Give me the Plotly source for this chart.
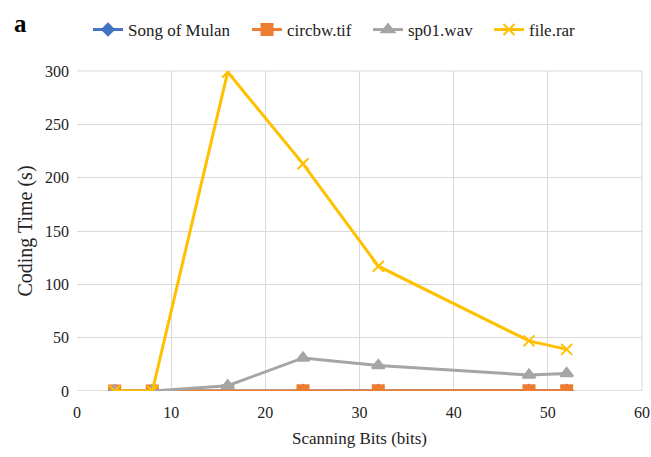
import plotly.graph_objects as go

bits = [4, 8, 16, 24, 32, 48, 52]
song_of_mulan = [0, 0, 0.1, 0.2, 0.2, 0.2, 0.2]
circbw_tif = [0, 0, 0.1, 0.2, 0.2, 0.2, 0.2]
sp01_wav = [0, 0, 5, 31, 24, 15, 16.5]
file_rar = [0, 0, 299, 213, 117, 47, 39]

series = [
    ("Song of Mulan", song_of_mulan, "#4472C4", "diamond", 9),
    ("circbw.tif", circbw_tif, "#ED7D31", "square", 11),
    ("sp01.wav", sp01_wav, "#A5A5A5", "triangle-up", 11),
    ("file.rar", file_rar, "#FFC000", "x-thin-open", 11),
]
legend_ids = ["legend", "legend2", "legend3", "legend4"]
legend_left_px = [88, 247, 368, 489]

FONT = "Liberation Serif"

fig = go.Figure()
for (name, vals, color, sym, size), lid in zip(series, legend_ids):
    fig.add_trace(go.Scatter(
        x=bits, y=vals, name=name, mode="lines+markers", legend=lid,
        showlegend=True,
        line=dict(color=color, width=3),
        marker=dict(symbol=sym, size=size, color=color,
                    line=dict(color=color, width=2)),
    ))

legends = {}
for lid, px in zip(legend_ids, legend_left_px):
    legends[lid] = dict(orientation="h", xref="container", yref="container",
                        x=px / 651, xanchor="left", y=1 - 30 / 457, yanchor="middle",
                        font=dict(size=17, family=FONT, color="#222"),
                        itemwidth=30, bgcolor="rgba(0,0,0,0)", borderwidth=0)

fig.update_layout(
    width=651, height=457, showlegend=True,
    margin=dict(l=77, r=9, t=71, b=66, autoexpand=False),
    paper_bgcolor="white", plot_bgcolor="white",
    font=dict(family=FONT, size=16, color="#222"),
    xaxis=dict(range=[0, 60], dtick=10, showgrid=True, gridcolor="#D9D9D9",
               gridwidth=1, zeroline=False, showline=False,
               title=dict(text="Scanning Bits (bits)", standoff=12,
                          font=dict(family=FONT, size=17)),
               ticks="", ticklabelstandoff=10,
               tickfont=dict(size=16, family=FONT, color="#222")),
    yaxis=dict(range=[0, 300], dtick=50, showgrid=True, gridcolor="#D9D9D9",
               gridwidth=1, zeroline=False, showline=False,
               title=dict(text="Coding Time (s)", standoff=7,
                          font=dict(family=FONT, size=20)),
               ticks="", ticklabelstandoff=7,
               tickfont=dict(size=16, family=FONT, color="#222")),
    annotations=[dict(text="<b>a</b>", xref="paper", yref="paper",
                      x=-0.115, y=1.15, xanchor="left", yanchor="middle",
                      showarrow=False, font=dict(size=25, family=FONT, color="black"))],
    **legends,
)
fig.add_shape(type="line", xref="paper", yref="y", x0=0, x1=1, y0=0, y1=0,
              line=dict(color="#BFBFBF", width=1), layer="below")
fig.add_shape(type="line", xref="paper", yref="paper", x0=1, x1=1, y0=0, y1=1,
              line=dict(color="#D9D9D9", width=1), layer="below")
fig.add_shape(type="line", xref="paper", yref="paper", x0=0, x1=1, y0=1, y1=1,
              line=dict(color="#D9D9D9", width=1), layer="below")
fig.write_html("out.html", config={"displayModeBar": False},
               post_script="document.body.style.margin='0';document.body.style.overflow='hidden';")
